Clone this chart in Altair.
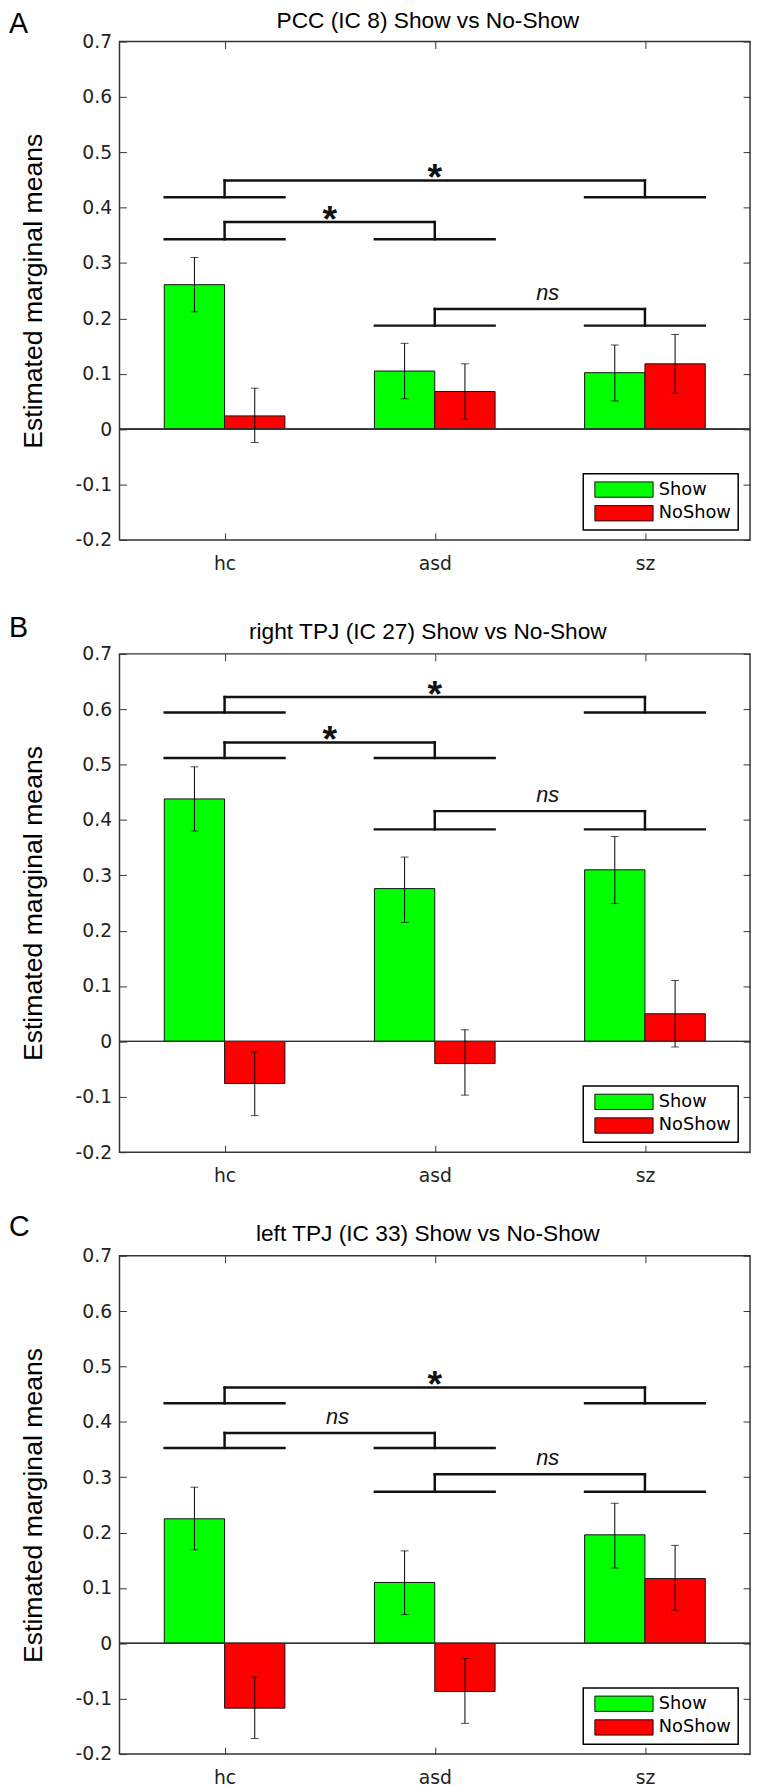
import altair as alt
import pandas as pd

# ---------------- data ----------------
groups = ["hc", "asd", "sz"]
group_pos = [1, 2, 3]
conditions = ["Show", "NoShow"]
cond_colors = ["#00ff00", "#ff0000"]

letters = ["A", "B", "C"]
titles = [
    "PCC (IC 8) Show vs No-Show",
    "right TPJ (IC 27) Show vs No-Show",
    "left TPJ (IC 33) Show vs No-Show",
]

show_mean = [[0.261, 0.105, 0.102], [0.438, 0.276, 0.310], [0.225, 0.110, 0.196]]
show_lo = [[0.212, 0.055, 0.051], [0.380, 0.215, 0.249], [0.169, 0.052, 0.136]]
show_hi = [[0.310, 0.155, 0.152], [0.496, 0.333, 0.370], [0.282, 0.167, 0.253]]

noshow_mean = [[0.024, 0.068, 0.118], [-0.076, -0.040, 0.050], [-0.117, -0.087, 0.117]]
noshow_lo = [[-0.024, 0.018, 0.065], [-0.134, -0.097, -0.010], [-0.172, -0.1445, 0.060]]
noshow_hi = [[0.074, 0.118, 0.171], [-0.019, 0.021, 0.110], [-0.061, -0.0275, 0.177]]

# significance brackets: left group, right group, lower level, upper level, label
bracket_left = [["hc", "hc", "asd"], ["hc", "hc", "asd"], ["hc", "hc", "asd"]]
bracket_right = [["sz", "asd", "sz"], ["sz", "asd", "sz"], ["sz", "asd", "sz"]]
bracket_low = [[0.419, 0.343, 0.187], [0.594, 0.512, 0.383], [0.4335, 0.353, 0.274]]
bracket_high = [[0.449, 0.374, 0.217], [0.622, 0.540, 0.416], [0.462, 0.380, 0.3055]]
bracket_label = [["*", "*", "ns"], ["*", "*", "ns"], ["*", "ns", "ns"]]

y_ticks = [-0.2, -0.1, 0, 0.1, 0.2, 0.3, 0.4, 0.5, 0.6, 0.7]

# ---------------- layout constants ----------------
W, H = 639, 505
BAR_W = 0.287
HALF = 0.285
letter_y = [-9, -17.5, -20]
title_y = [-14, -15, -15]

pos_of = dict(zip(groups, group_pos))

x_label_expr = " : ".join(
    f"datum.value == {p} ? '{g}'" for p, g in zip(group_pos[:-1], groups[:-1])
) + f" : '{groups[-1]}'"
y_label_expr = ("datum.value == 0 ? '0' : (datum.value < 0 ? '-' + format(-datum.value, '.1f')"
                " : format(datum.value, '.1f'))")

xs = alt.Scale(domain=[0.5, 3.5], nice=False, zero=False)
ys = alt.Scale(domain=[-0.2, 0.7], nice=False, zero=False)
INWARD = {"expr": "-7"}
AX_COL = "#333333"
LAB_COL = "#222222"


def panel(p):
    rows = []
    for g in groups:
        c = pos_of[g]
        gi = groups.index(g)
        for ci, cond in enumerate(conditions):
            m = (show_mean, noshow_mean)[ci][p][gi]
            lo = (show_lo, noshow_lo)[ci][p][gi]
            hi = (show_hi, noshow_hi)[ci][p][gi]
            x0 = c - BAR_W if ci == 0 else c
            rows.append(dict(group=g, cond=cond, mean=m, lo=lo, hi=hi,
                             x0=x0, x1=x0 + BAR_W, xc=x0 + BAR_W / 2))
    bars_df = pd.DataFrame(rows)
    caps_df = bars_df.melt(id_vars=["xc"], value_vars=["lo", "hi"], value_name="end")

    segs, labs = [], []
    for gl, gr, lo, hi, lab in zip(bracket_left[p], bracket_right[p], bracket_low[p],
                                   bracket_high[p], bracket_label[p]):
        c1, c2 = pos_of[gl], pos_of[gr]
        segs += [
            dict(xa=c1 - HALF, xb=c1 + HALF, ya=lo, yb=lo),
            dict(xa=c2 - HALF, xb=c2 + HALF, ya=lo, yb=lo),
            dict(xa=c1, xb=c1, ya=lo, yb=hi),
            dict(xa=c2, xb=c2, ya=lo, yb=hi),
            dict(xa=c1, xb=c2, ya=hi, yb=hi),
        ]
        labs.append(dict(xm=(c1 + c2) / 2, y=hi, label=lab))
    seg_df = pd.DataFrame(segs)
    lab_df = pd.DataFrame(labs)

    legend = alt.Legend(
        title=None, orient="none", legendX=470, legendY=438, direction="vertical",
        symbolType="M-0.53,-0.97H6.845V0.97H-0.53Z", symbolSize=256,
        symbolStrokeColor="#111111", symbolStrokeWidth=1, symbolOpacity=1,
        labelFont="DejaVu Sans", labelFontSize=18, labelColor="black",
        padding=7, symbolOffset=0, labelOffset=51.5, rowPadding=4,
        strokeColor="black", fillColor="white",
    )

    bars = alt.Chart(bars_df).mark_bar(stroke="#111111", strokeWidth=1, opacity=1).encode(
        x=alt.X("x0:Q", scale=xs, axis=alt.Axis(
            values=group_pos, labelExpr=x_label_expr, title=None, grid=False, domain=False,
            ticks=True, tickSize=INWARD, tickColor=AX_COL, tickWidth=1, labelPadding=22,
            labelFont="DejaVu Sans", labelFontSize=19, labelColor=LAB_COL, orient="bottom")),
        x2="x1:Q",
        y=alt.Y("mean:Q", scale=ys, axis=alt.Axis(
            values=y_ticks, labelExpr=y_label_expr, grid=False, domain=False,
            ticks=True, tickSize=INWARD, tickColor=AX_COL, tickWidth=1, labelPadding=15,
            labelOverlap=False, labelFont="DejaVu Sans", labelFontSize=19, labelColor=LAB_COL,
            title="Estimated marginal means", titleFont="Liberation Sans", titleFontSize=27,
            titleFontWeight="normal", titleColor="black", titleX=-79, titleY=H / 2,
            titleAngle=-90, titleBaseline="alphabetic", titleAlign="center", orient="left")),
        y2=alt.datum(0),
        color=alt.Color("cond:N", scale=alt.Scale(domain=conditions, range=cond_colors),
                        legend=legend),
    )

    zero = alt.Chart(bars_df).mark_rule(color="#333333", strokeWidth=1).encode(
        y=alt.Y("z:Q", scale=ys, axis=None)
    ).transform_calculate(z="0")

    err = alt.Chart(bars_df).mark_rule(color="black", strokeWidth=1).encode(
        x=alt.X("xc:Q", scale=xs, axis=alt.Axis(
            orient="top", values=group_pos, labels=False, title=None, grid=False,
            domain=False, tickSize=INWARD, tickColor=AX_COL, tickWidth=1)),
        y=alt.Y("lo:Q", scale=ys, axis=alt.Axis(
            orient="right", values=y_ticks, labels=False, title=None, grid=False,
            domain=False, tickSize=INWARD, tickColor=AX_COL, tickWidth=1)),
        y2="hi:Q",
    )

    caps = alt.Chart(caps_df).mark_tick(color="black", orient="horizontal", size=8,
                                        thickness=1).encode(
        x=alt.X("xc:Q", scale=xs, axis=None),
        y=alt.Y("end:Q", scale=ys, axis=None),
    )

    brackets = alt.Chart(seg_df).mark_rule(color="#111111", strokeWidth=2.5,
                                           strokeCap="square").encode(
        x=alt.X("xa:Q", scale=xs, axis=None), x2="xb:Q",
        y=alt.Y("ya:Q", scale=ys, axis=None), y2="yb:Q",
    )

    stars = alt.Chart(lab_df).transform_filter(alt.datum.label == "*").mark_text(
        font="Liberation Sans", fontWeight="bold", fontSize=38, baseline="alphabetic",
        align="center", dy=10, color="#111111",
    ).encode(x=alt.X("xm:Q", scale=xs, axis=None), y=alt.Y("y:Q", scale=ys, axis=None),
             text="label:N")

    ns = alt.Chart(lab_df).transform_filter(alt.datum.label == "ns").mark_text(
        font="Liberation Sans", fontStyle="italic", fontSize=22, baseline="alphabetic",
        align="center", dy=-9, dx=8, color="#111111",
    ).encode(x=alt.X("xm:Q", scale=xs, axis=None), y=alt.Y("y:Q", scale=ys, axis=None),
             text="label:N")

    heads = alt.Chart(pd.DataFrame({"letter": [letters[p]], "title": [titles[p]]}))
    letter = heads.mark_text(
        font="Liberation Sans", fontSize=29, align="left", baseline="alphabetic",
        color="black",
    ).encode(text="letter:N", x=alt.value(-112), y=alt.value(letter_y[p]))
    title = heads.mark_text(
        font="Liberation Sans", fontSize=23, align="center", baseline="alphabetic",
        color="black",
    ).encode(text="title:N", x=alt.value(W / 2 - 7), y=alt.value(title_y[p]))

    return alt.layer(bars, zero, err, caps, brackets, stars, ns, letter, title).resolve_axis(
        x="independent", y="independent"
    ).properties(width=W, height=H)


top = alt.vconcat(panel(0), panel(1), spacing=38.5).resolve_legend(color="independent")
chart = alt.vconcat(top, panel(2), spacing=25.5).resolve_legend(
    color="independent"
).properties(padding={"top": -11, "left": 0, "right": 0, "bottom": 0}).configure_view(
    stroke="#333333", strokeWidth=1.5
).configure_legend(strokeWidth=1.5)

chart.save("out.html", embed_options={"renderer": "svg", "actions": False})
